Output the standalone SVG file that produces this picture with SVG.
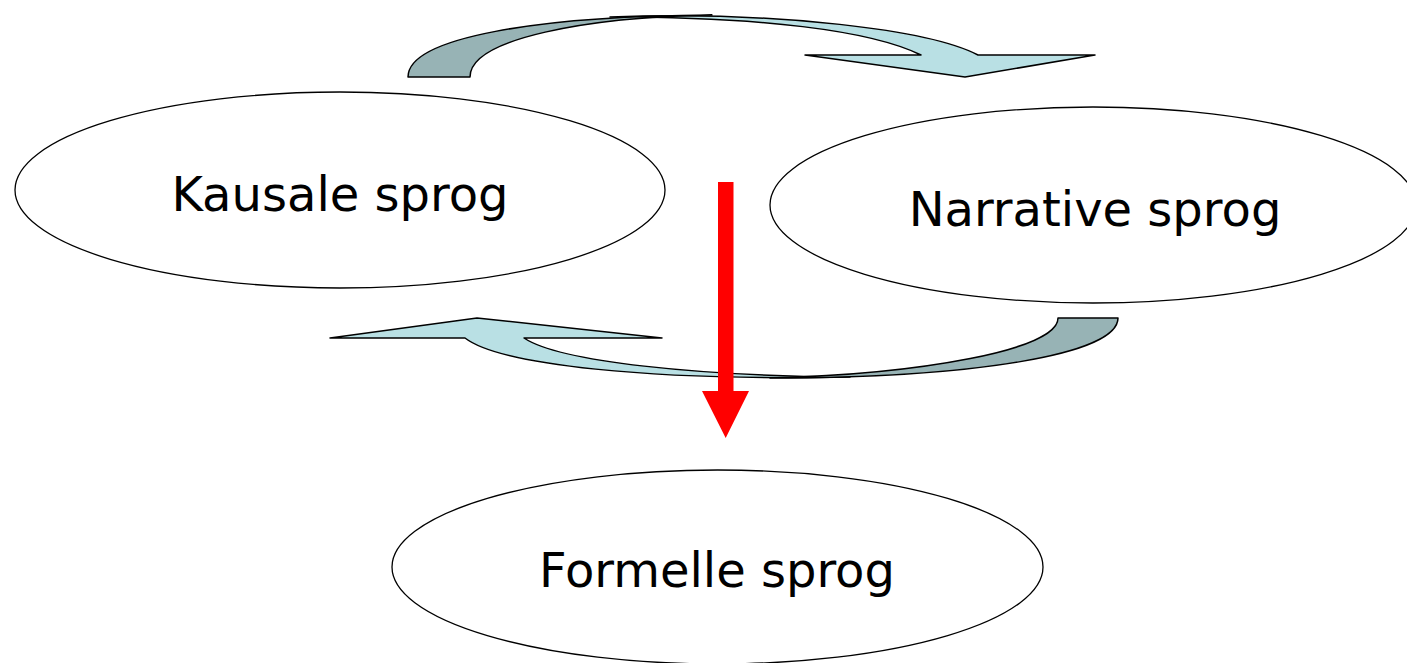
<svg xmlns="http://www.w3.org/2000/svg" width="1407" height="663" viewBox="0 0 1407 663">
  <style>
    .node { fill: #ffffff; stroke: #000000; stroke-width: 1.3; }
    .label { font-family: "DejaVu Sans", Verdana, sans-serif; font-size: 48px; fill: #000000; text-anchor: middle; }
    .back { fill: #97B3B5; stroke: #000000; stroke-width: 1.5; stroke-linejoin: round; }
    .front { fill: #B9E0E4; stroke: #000000; stroke-width: 1.5; stroke-linejoin: round; }
    .red { fill: #FF0000; stroke: none; }
  </style>

  <g id="connectors">
    <!-- upper curved arrow: Kausale -> Narrative -->
    <g id="curve-top">
      <path class="front" d="M610,17 C780,11 930,30 978,55 L1095,55 L965,77 L805,55 L921,55 C870,30 760,17 610,17 Z"/>
      <path class="back" d="M408,77 C408,37 540,16 712,15 C590,17 470,38 470,77 Z"/>
    </g>
    <!-- lower curved arrow: Narrative -> Kausale -->
    <g id="curve-bottom">
      <path class="front" d="M850,377 C650,381 500,365 465,338 L330,338 L477,318 L662,338 L524,338 C560,362 700,376 850,377 Z"/>
      <path class="back" d="M1118,318 C1118,355 970,378 770,378 C920,374 1058,350 1058,318 Z"/>
    </g>
  </g>

  <g id="node-kausale">
    <ellipse class="node" cx="340" cy="190" rx="325" ry="98"/>
    <text class="label" x="340" y="211">Kausale sprog</text>
  </g>

  <g id="node-narrative">
    <ellipse class="node" cx="1093" cy="205" rx="323" ry="98"/>
    <text class="label" x="1095" y="226">Narrative sprog</text>
  </g>

  <g id="node-formelle">
    <ellipse class="node" cx="717.5" cy="567" rx="325.5" ry="97"/>
    <text class="label" x="717" y="587">Formelle sprog</text>
  </g>

  <!-- red downward arrow towards Formelle sprog -->
  <g id="arrow-down">
    <path class="red" d="M718,182 L733.5,182 L733.5,391 L749,391 L725.7,438 L702,391 L718,391 Z"/>
  </g>
</svg>
